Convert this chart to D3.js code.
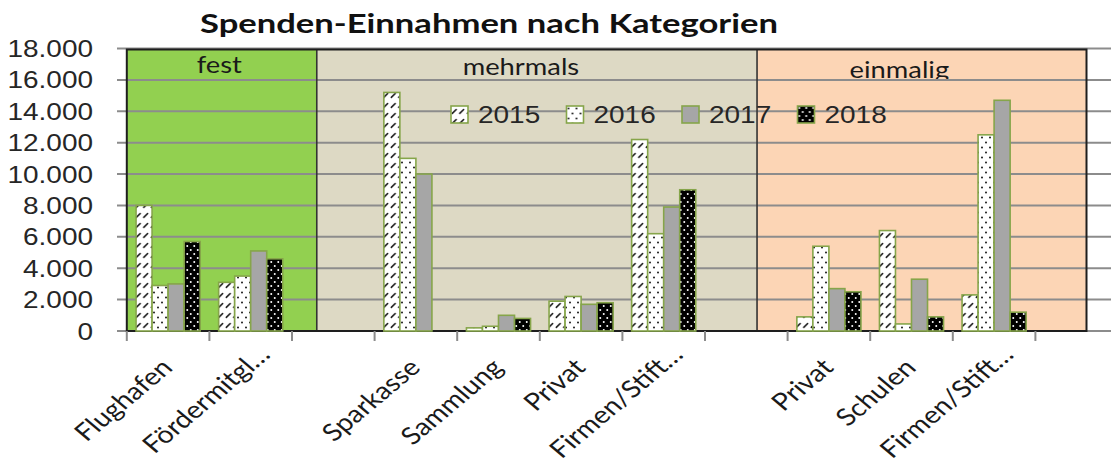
<!DOCTYPE html>
<html>
<head>
<meta charset="utf-8">
<script src="https://cdn.jsdelivr.net/npm/d3@7"></script>
<style>
  html, body { margin: 0; padding: 0; background: #ffffff; }
  svg { display: block; }
</style>
</head>
<body>
<svg id="chart" width="1111" height="466"></svg>
<script>
// ---------------- data ----------------
const categories = ["Flughafen", "Fördermitgl…", "", "Sparkasse", "Sammlung", "Privat", "Firmen/Stift…", "", "Privat", "Schulen", "Firmen/Stift…"];
const years = ["2015", "2016", "2017", "2018"];
const values2015 = [8000, 3100, null, 15200, 200, 1900, 12200, null, 900, 6400, 2300];
const values2016 = [2900, 3500, null, 11000, 300, 2200, 6200, null, 5400, 450, 12500];
const values2017 = [3000, 5100, null, 10000, 1000, 1700, 7900, null, 2700, 3300, 14700];
const values2018 = [5700, 4600, null, null, 800, 1800, 9000, null, 2500, 900, 1200];
const yTicks = [0, 2000, 4000, 6000, 8000, 10000, 12000, 14000, 16000, 18000];
const groupNames = ["fest", "mehrmals", "einmalig"];
const groupFrom = [0, 2.3, 7.63];   // in category units
const groupTo = [2.3, 7.63, 11.62];
const title = "Spenden-Einnahmen nach Kategorien";

const seriesValues = [values2015, values2016, values2017, values2018];

// ---------------- layout ----------------
const svg = d3.select("#chart");
const SX = 1.19; // horizontal text stretch of the original
const plot = { left: 126.8, right: 1086.5, top: 49.5, bottom: 331 };
const axisRight = 1035.4;
const gridLeft = 117, gridRight = 1111;

const y = d3.scaleLinear().domain([0, 18000]).range([plot.bottom, 48.5]);
const xIdx = d3.scaleLinear().domain([0, categories.length]).range([plot.left, axisRight]);
const x0 = d3.scaleBand().domain(d3.range(categories.length)).range([plot.left, axisRight]).padding(0);
const bw = x0.bandwidth();
const x1 = d3.scaleBand().domain(years).range([bw * 0.112, bw * 0.888]).padding(0);

const de = d3.formatLocale({ decimal: ",", thousands: ".", grouping: [3], currency: ["", " €"] });
const fmt = de.format(",");

const greenEdge = "#86A54A";
const groupFills = ["#92D050", "#DDD9C4", "#FCD5B5"];

// ---------------- patterns ----------------
const defs = svg.append("defs");
const p15 = defs.append("pattern").attr("id", "pat2015").attr("patternUnits", "userSpaceOnUse")
  .attr("width", 7.5).attr("height", 10);
p15.append("rect").attr("width", 7.5).attr("height", 10).attr("fill", "#fff");
p15.append("path").attr("d", "M1.3,7.4 L5.2,3.5").attr("stroke", "#151515").attr("stroke-width", 1.5)
  .attr("stroke-linecap", "round");

const p16 = defs.append("pattern").attr("id", "pat2016").attr("patternUnits", "userSpaceOnUse")
  .attr("width", 8).attr("height", 10);
p16.append("rect").attr("width", 8).attr("height", 10).attr("fill", "#fff");
p16.append("circle").attr("cx", 2).attr("cy", 2.5).attr("r", 1).attr("fill", "#1a1a1a");
p16.append("circle").attr("cx", 6).attr("cy", 7.5).attr("r", 1).attr("fill", "#1a1a1a");

const p18 = defs.append("pattern").attr("id", "pat2018").attr("patternUnits", "userSpaceOnUse")
  .attr("width", 7).attr("height", 8);
p18.append("rect").attr("width", 7).attr("height", 8).attr("fill", "#000");
p18.append("circle").attr("cx", 1.75).attr("cy", 2).attr("r", 1).attr("fill", "#fff");
p18.append("circle").attr("cx", 5.25).attr("cy", 6).attr("r", 1).attr("fill", "#fff");

const seriesFill = { "2015": "url(#pat2015)", "2016": "url(#pat2016)", "2017": "#A6A6A6", "2018": "url(#pat2018)" };

defs.append("clipPath").attr("id", "labelClip").append("rect")
  .attr("x", plot.left).attr("y", plot.top).attr("width", plot.right - plot.left).attr("height", 79.5 - plot.top);

// ---------------- group backgrounds ----------------
const groups = groupNames.map((n, i) => ({ name: n, from: groupFrom[i], to: groupTo[i], fill: groupFills[i] }));
svg.append("g").selectAll("rect").data(groups).join("rect")
  .attr("x", d => xIdx(d.from)).attr("y", plot.top)
  .attr("width", d => xIdx(d.to) - xIdx(d.from)).attr("height", plot.bottom - plot.top)
  .attr("fill", d => d.fill);

// group labels
const labelShift = [-2.5, -16, -22.5];
const labelBase = [73, 75, 78];
svg.append("g").attr("clip-path", "url(#labelClip)").selectAll("text").data(groups).join("text")
  .attr("transform", (d, i) => `translate(${(xIdx(d.from) + xIdx(d.to)) / 2 + labelShift[i]},${labelBase[i]}) scale(${SX},1)`)
  .attr("text-anchor", "middle")
  .attr("font-family", "Lato, 'Open Sans', sans-serif")
  .attr("font-size", 23)
  .attr("fill", "#1a1a1a")
  .text(d => d.name);

// ---------------- gridlines ----------------
svg.append("g").selectAll("line").data(yTicks).join("line")
  .attr("x1", gridLeft).attr("x2", gridRight)
  .attr("y1", d => y(d)).attr("y2", d => y(d))
  .attr("stroke", "#8C8C8C").attr("stroke-width", 2);

// dividers and plot border
svg.append("g").selectAll("line").data(groups.slice(1)).join("line")
  .attr("x1", d => xIdx(d.from)).attr("x2", d => xIdx(d.from))
  .attr("y1", plot.top).attr("y2", plot.bottom)
  .attr("stroke", "#333").attr("stroke-width", 1.6);
svg.append("rect")
  .attr("x", plot.left).attr("y", plot.top)
  .attr("width", plot.right - plot.left).attr("height", plot.bottom - plot.top)
  .attr("fill", "none").attr("stroke", "#1e1e1e").attr("stroke-width", 2);

// y labels
svg.append("g").selectAll("text").data(yTicks).join("text")
  .attr("transform", d => `translate(93,${y(d) + 8.5}) scale(${SX},1)`)
  .attr("text-anchor", "end")
  .attr("font-family", "'Liberation Sans', Arial, sans-serif")
  .attr("font-size", 23.5)
  .attr("fill", "#262626")
  .text(d => fmt(d));

// x ticks
svg.append("g").selectAll("line").data(d3.range(categories.length + 1)).join("line")
  .attr("x1", d => xIdx(d)).attr("x2", d => xIdx(d))
  .attr("y1", plot.bottom).attr("y2", plot.bottom + 10)
  .attr("stroke", "#8C8C8C").attr("stroke-width", 2);

// ---------------- bars ----------------
const barData = [];
categories.forEach((c, i) => {
  years.forEach((yr, k) => {
    const v = seriesValues[k][i];
    if (v !== null && v !== undefined) barData.push({ i, yr, v });
  });
});
svg.append("g").selectAll("rect").data(barData).join("rect")
  .attr("x", d => x0(d.i) + x1(d.yr))
  .attr("y", d => y(d.v))
  .attr("width", x1.bandwidth())
  .attr("height", d => y(0) - y(d.v))
  .attr("fill", d => seriesFill[d.yr])
  .attr("stroke", greenEdge).attr("stroke-width", 1.6);

// ---------------- x labels ----------------
svg.append("g").selectAll("text").data(categories.map((c, i) => ({ c, i })).filter(d => d.c !== "")).join("text")
  .attr("transform", d => {
    const cx = x0(d.i) + bw / 2;
    const trunc = d.c.endsWith("…");
    const ax = cx + (trunc ? 21 : 6);
    const ay = trunc ? 356 : 369;
    return `translate(${ax},${ay}) scale(${SX},1) rotate(-45)`;
  })
  .attr("text-anchor", "end")
  .attr("font-family", "Lato, 'Open Sans', sans-serif")
  .attr("font-size", 24)
  .attr("fill", "#1a1a1a")
  .text(d => d.c);

// ---------------- legend ----------------
const legend = svg.append("g").selectAll("g").data(years).join("g")
  .attr("transform", (d, k) => `translate(${451 + k * 115.5},106)`);
legend.append("rect").attr("width", 17).attr("height", 17)
  .attr("fill", d => seriesFill[d]).attr("stroke", greenEdge).attr("stroke-width", 1.6);
legend.append("text")
  .attr("transform", `translate(27,16.5) scale(${SX},1)`)
  .attr("font-family", "'Liberation Sans', Arial, sans-serif")
  .attr("font-size", 23.5)
  .attr("fill", "#262626")
  .text(d => d);

// ---------------- title ----------------
svg.append("text")
  .attr("x", 200).attr("y", 33)
  .attr("textLength", 578).attr("lengthAdjust", "spacingAndGlyphs")
  .attr("font-family", "Lato, 'Open Sans', sans-serif")
  .attr("font-weight", 700)
  .attr("font-size", 27.5)
  .attr("fill", "#111")
  .text(title);
</script>
</body>
</html>
